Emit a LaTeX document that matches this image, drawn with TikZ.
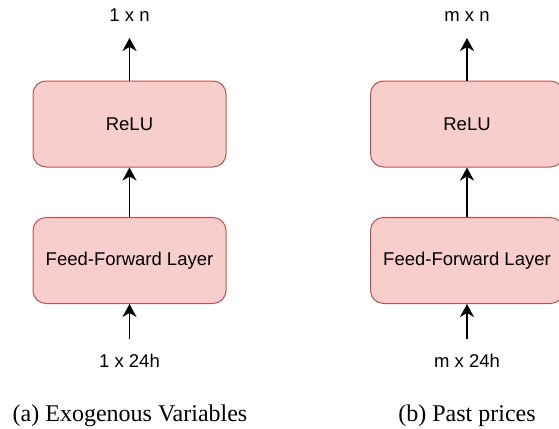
\documentclass[tikz,border=0pt]{standalone}
\usepackage{fontspec}
\setmainfont{Liberation Serif}
\newfontfamily\labfont{Liberation Sans}
\usetikzlibrary{arrows.meta}
\definecolor{boxfill}{HTML}{F8CECC}
\definecolor{boxline}{HTML}{B85450}
\begin{document}
\begin{tikzpicture}[x=1pt,y=-1pt,
  layerbox/.style={draw=boxline,fill=boxfill,line width=1pt,rounded corners=13pt,
    minimum width=193pt,minimum height=86pt,inner sep=0pt,
    font=\labfont\fontsize{18.5}{22}\selectfont},
  dimlabel/.style={anchor=base,inner sep=0pt,font=\labfont\fontsize{18.5}{22}\selectfont},
  caplabel/.style={anchor=base,inner sep=0pt,font=\fontsize{24}{28}\selectfont},
  flow/.style={line width=1.8pt,-{Stealth[length=13pt,width=14pt,inset=4pt]}}]
\useasboundingbox (0,0) rectangle (559,428);
\clip (0,0) rectangle (559,428);
% left column
\node[layerbox] (reluA) at (129.5,124) {ReLU};
\node[layerbox] (ffA) at (129.5,260.5) {Feed-Forward Layer};
\node[dimlabel] (outA) at (129.5,22) {1 x n};
\node[dimlabel] (inA) at (129.5,367.5) {1 x 24h};
\coordinate (outAend) at (129.5,38);
\coordinate (inAstart) at (129.5,339);
\draw[flow] (reluA.north) -- (outAend);
\draw[flow] (ffA.north) -- (reluA.south);
\draw[flow] (inAstart) -- (ffA.south);
\node[caplabel] (capA) at (130,421) {(a) Exogenous Variables};
% right column
\node[layerbox] (reluB) at (467,124) {ReLU};
\node[layerbox] (ffB) at (467,260.5) {Feed-Forward Layer};
\node[dimlabel] (outB) at (467,22) {m x n};
\node[dimlabel] (inB) at (467,367.5) {m x 24h};
\coordinate (outBend) at (467,38);
\coordinate (inBstart) at (467,339);
\draw[flow] (reluB.north) -- (outBend);
\draw[flow] (ffB.north) -- (reluB.south);
\draw[flow] (inBstart) -- (ffB.south);
\node[caplabel] (capB) at (467,421) {(b) Past prices};
\end{tikzpicture}
\end{document}
